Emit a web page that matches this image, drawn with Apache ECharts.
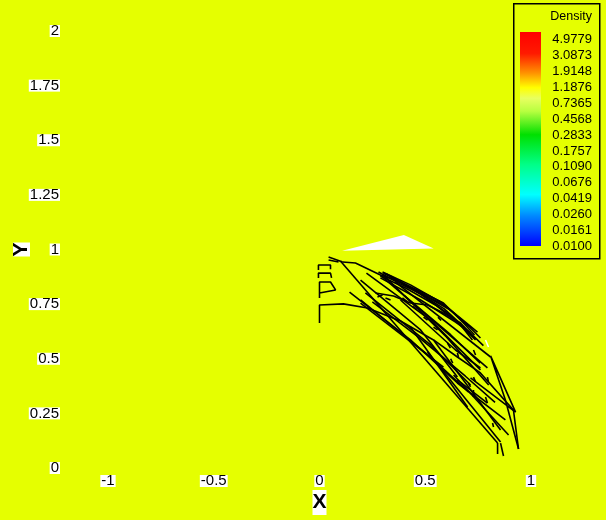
<!DOCTYPE html>
<html>
<head>
<meta charset="utf-8">
<script src="https://cdn.jsdelivr.net/npm/echarts@6/dist/echarts.min.js"></script>
<style>
  html, body { margin: 0; padding: 0; background: #e5ff00; }
  #chart { width: 606px; height: 520px; }
</style>
</head>
<body>
<div id="chart"></div>
<script>
// Axis ticks
const xTicks = ['-1', '-0.5', '0', '0.5', '1'];
const yTicks = ['0', '0.25', '0.5', '0.75', '1', '1.25', '1.5', '1.75', '2'];

// Density contour legend levels (top to bottom)
const densityLevels = ['4.9779', '3.0873', '1.9148', '1.1876', '0.7365', '0.4568', '0.2833',
  '0.1757', '0.1090', '0.0676', '0.0419', '0.0260', '0.0161', '0.0100'];

// White high-density patch above the strands
const patchX = [0.107, 0.399, 0.540];
const patchY = [0.994, 1.066, 1.005];
const sliverX = [0.785, 0.799];
const sliverY = [0.586, 0.554];

// Stroke paths, [x, y] pairs
const originMarks = [
  [[0.043, 0.966], [0.109, 0.943]],
  [[0.043, 0.952], [0.090, 0.943]]
];
const bracketMarks = [
  [[-0.005, 0.906], [-0.005, 0.929], [0.052, 0.929], [0.052, 0.910]],
  [[-0.005, 0.870], [-0.005, 0.892], [0.052, 0.892], [0.057, 0.870]],
  [[0.000, 0.778], [0.000, 0.851], [0.052, 0.851], [0.076, 0.815], [0.000, 0.801]],
  [[0.000, 0.664], [0.000, 0.746], [0.113, 0.751], [0.227, 0.732], [0.383, 0.673],
   [0.539, 0.586], [0.652, 0.508], [0.761, 0.435], [0.917, 0.265], [0.941, 0.087]]
];
const upperStrands = [
  [[0.109, 0.943], [0.170, 0.938], [0.288, 0.883], [0.383, 0.851], [0.492, 0.801],
   [0.586, 0.755], [0.681, 0.664], [0.733, 0.609]],
  [[0.279, 0.897], [0.383, 0.842], [0.501, 0.787], [0.619, 0.723], [0.714, 0.641], [0.761, 0.595]],
  [[0.298, 0.897], [0.430, 0.838], [0.572, 0.760], [0.690, 0.668], [0.747, 0.622]],
  [[0.288, 0.879], [0.407, 0.824], [0.548, 0.746], [0.667, 0.654], [0.723, 0.586]],
  [[0.317, 0.888], [0.454, 0.815], [0.596, 0.741], [0.704, 0.650]],
  [[0.288, 0.870], [0.478, 0.769], [0.643, 0.668], [0.714, 0.618]],
  [[0.302, 0.892], [0.440, 0.820], [0.590, 0.728], [0.700, 0.630], [0.775, 0.560]],
  [[0.330, 0.880], [0.470, 0.800], [0.610, 0.705], [0.735, 0.590]],
  [[0.265, 0.801], [0.350, 0.787], [0.430, 0.755], [0.511, 0.746], [0.586, 0.709],
   [0.667, 0.664], [0.738, 0.586]]
];
const diagonalStrands = [
  [[0.099, 0.947], [0.842, 0.114]],
  [[0.288, 0.883], [0.794, 0.458]],
  [[0.142, 0.805], [0.430, 0.586], [0.652, 0.389], [0.879, 0.220]],
  [[0.217, 0.801], [0.525, 0.563], [0.714, 0.380]],
  [[0.194, 0.769], [0.525, 0.508], [0.704, 0.348]],
  [[0.383, 0.769], [0.643, 0.540], [0.761, 0.458]],
  [[0.430, 0.645], [0.700, 0.279]],
  [[0.539, 0.586], [0.856, 0.174]],
  [[0.652, 0.403], [0.794, 0.297]],
  [[0.359, 0.851], [0.809, 0.508]],
  [[0.300, 0.885], [0.600, 0.600], [0.800, 0.380]],
  [[0.250, 0.760], [0.480, 0.590], [0.690, 0.420], [0.830, 0.300]],
  [[0.400, 0.790], [0.620, 0.610], [0.760, 0.480]],
  [[0.194, 0.860], [0.478, 0.632], [0.652, 0.416]],
  [[0.222, 0.892], [0.525, 0.677], [0.761, 0.449]],
  [[0.194, 0.755], [0.586, 0.462]]
];
const tailStrands = [
  [[0.714, 0.412], [0.927, 0.256], [0.809, 0.513], [0.879, 0.311], [0.941, 0.087]],
  [[0.511, 0.531], [0.856, 0.119]],
  [[0.634, 0.426], [0.894, 0.151]],
  [[0.842, 0.114], [0.842, 0.064]],
  [[0.856, 0.114], [0.870, 0.055]]
];
const shortDashes = [
  [[0.274, 0.783], [0.298, 0.792]],
  [[0.312, 0.778], [0.336, 0.769]],
  [[0.392, 0.778], [0.416, 0.760]],
  [[0.492, 0.691], [0.511, 0.677]],
  [[0.539, 0.645], [0.558, 0.632]],
  [[0.605, 0.572], [0.619, 0.549]],
  [[0.652, 0.526], [0.657, 0.508]],
  [[0.728, 0.540], [0.738, 0.517]],
  [[0.728, 0.416], [0.738, 0.394]],
  [[0.704, 0.389], [0.714, 0.371]],
  [[0.794, 0.416], [0.799, 0.394]],
  [[0.818, 0.206], [0.823, 0.188]],
  [[0.785, 0.325], [0.794, 0.297]],
  [[0.728, 0.357], [0.728, 0.325]],
  [[0.440, 0.740], [0.460, 0.725]],
  [[0.560, 0.690], [0.575, 0.675]],
  [[0.620, 0.500], [0.630, 0.480]]
];

const BG = '#e5ff00';
const FONT = '"Liberation Sans", Arial, Helvetica, sans-serif';

const chart = echarts.init(document.getElementById('chart'), null, { renderer: 'canvas' });

const strokeSeries = [].concat(originMarks, bracketMarks, upperStrands, diagonalStrands, tailStrands, shortDashes)
  .map(path => ({
    type: 'line',
    data: path,
    symbol: 'none',
    silent: true,
    animation: false,
    z: 3,
    lineStyle: { color: '#000', width: 1.6 }
  }));

const patchSeries = {
  type: 'custom',
  silent: true,
  animation: false,
  z: 2,
  data: [[patchX[0], patchY[0]]],
  renderItem: function (params, api) {
    const pts = patchX.map((x, i) => api.coord([x, patchY[i]]));
    return { type: 'polygon', shape: { points: pts }, style: { fill: '#fff' } };
  }
};

const sliverSeries = {
  type: 'line',
  data: sliverX.map((x, i) => [x, sliverY[i]]),
  symbol: 'none',
  silent: true,
  animation: false,
  z: 2,
  lineStyle: { color: '#fff', width: 1.5 }
};

// Colour bar legend
const barTop = 32, barH = 214, barX = 520, barW = 21;
const legendGraphics = [
  {
    type: 'rect', left: 513, top: 3, silent: true,
    shape: { width: 86, height: 255 },
    style: { fill: 'transparent', stroke: '#000', lineWidth: 1.5 }
  },
  {
    type: 'rect', left: barX, top: barTop, silent: true,
    shape: { width: barW, height: barH },
    style: {
      fill: new echarts.graphic.LinearGradient(0, 0, 0, 1, [
        { offset: 0, color: '#ff0000' },
        { offset: 0.10, color: '#ff1a00' },
        { offset: 0.19, color: '#ff9000' },
        { offset: 0.26, color: '#ffff00' },
        { offset: 0.31, color: '#e8ff60' },
        { offset: 0.37, color: '#b8ff40' },
        { offset: 0.48, color: '#00e000' },
        { offset: 0.62, color: '#00ff88' },
        { offset: 0.76, color: '#00ffff' },
        { offset: 0.86, color: '#0088ff' },
        { offset: 1, color: '#0000ff' }
      ])
    }
  },
  {
    type: 'text', right: 14, top: 10, silent: true,
    style: { text: 'Density', font: '12.5px ' + FONT, fill: '#000' }
  }
].concat(densityLevels.map((lab, i) => ({
  type: 'text', silent: true,
  x: 592, y: 39.3 + i * 15.95,
  style: { text: lab, font: '13px ' + FONT, fill: '#000', align: 'right', verticalAlign: 'middle' }
})));

const tickLabel = {
  fontFamily: FONT,
  fontSize: 15,
  color: '#000',
  backgroundColor: '#fff',
  padding: [0, 1],
  lineHeight: 12
};

chart.setOption({
  backgroundColor: BG,
  animation: false,
  grid: { left: 108, right: 75, top: 31, bottom: 52, containLabel: false, outerBoundsMode: 'none' },
  xAxis: {
    type: 'value', min: -1, max: 1, interval: 0.5,
    name: 'X', nameLocation: 'middle', nameGap: 22, nameMoveOverlap: false,
    nameTextStyle: {
      fontFamily: FONT, fontSize: 21, fontWeight: 'bold', color: '#000',
      backgroundColor: '#fff', lineHeight: 25, padding: 0
    },
    axisLine: { show: false }, axisTick: { show: false }, splitLine: { show: false },
    axisLabel: Object.assign({}, tickLabel, {
      margin: 7,
      formatter: v => xTicks[Math.round((v + 1) / 0.5)]
    })
  },
  yAxis: {
    type: 'value', min: 0, max: 2, interval: 0.25,
    name: 'Y', nameLocation: 'middle', nameGap: 78, nameRotate: 90, nameMoveOverlap: false,
    nameTextStyle: {
      fontFamily: FONT, fontSize: 21, fontWeight: 'bold', color: '#000',
      backgroundColor: '#fff', lineHeight: 17, padding: 0
    },
    axisLine: { show: false }, axisTick: { show: false }, splitLine: { show: false },
    axisLabel: Object.assign({}, tickLabel, {
      margin: 48,
      formatter: v => yTicks[Math.round(v / 0.25)]
    })
  },
  graphic: legendGraphics,
  series: [patchSeries, sliverSeries].concat(strokeSeries)
});
</script>
</body>
</html>
